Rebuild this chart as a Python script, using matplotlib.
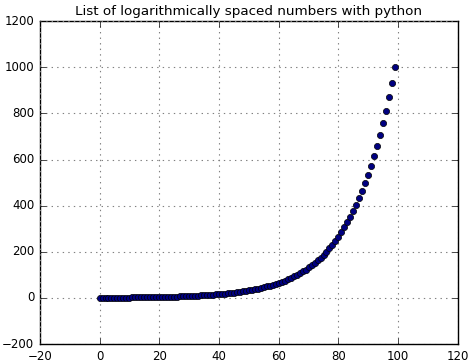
import matplotlib
matplotlib.use("Agg")
import matplotlib.pyplot as plt

# logarithmically spaced numbers
values = [
    1.00, 1.07, 1.15, 1.23, 1.32, 1.42, 1.52, 1.63, 1.75, 1.87,
    2.01, 2.15, 2.31, 2.48, 2.66, 2.85, 3.05, 3.28, 3.51, 3.76,
    4.04, 4.33, 4.64, 4.98, 5.34, 5.72, 6.14, 6.58, 7.05, 7.56,
    8.11, 8.70, 9.33, 10.00, 10.72, 11.50, 12.33, 13.22, 14.17, 15.20,
    16.30, 17.48, 18.74, 20.09, 21.54, 23.10, 24.77, 26.56, 28.48, 30.54,
    32.75, 35.11, 37.65, 40.37, 43.29, 46.42, 49.77, 53.37, 57.22, 61.36,
    65.79, 70.55, 75.65, 81.11, 86.97, 93.26, 100.00, 107.23, 114.98, 123.28,
    132.19, 141.75, 151.99, 162.98, 174.75, 187.38, 200.92, 215.44, 231.01, 247.71,
    265.61, 284.80, 305.39, 327.45, 351.12, 376.49, 403.70, 432.88, 464.16, 497.70,
    533.67, 572.24, 613.59, 657.93, 705.48, 756.46, 811.13, 869.75, 932.60, 1000.00,
]
index = list(range(len(values)))

plt.style.use("classic")
plt.rcParams["font.size"] = 8.5

fig = plt.figure(figsize=(4.74, 3.63), dpi=100, facecolor="white")
ax = fig.add_axes([0.084, 0.052, 0.882, 0.89])

ax.scatter(index, values, s=20, c="#000080", edgecolors="black", linewidths=0.5, zorder=3)

ax.set_xlim(-20, 120)
ax.set_ylim(-200, 1200)
ax.set_title("List of logarithmically spaced numbers with python", fontsize=9.7, pad=4)
ax.grid(True, color="gray", linestyle=":", linewidth=0.8)

fig.savefig("out.png", dpi=100, facecolor="white")
